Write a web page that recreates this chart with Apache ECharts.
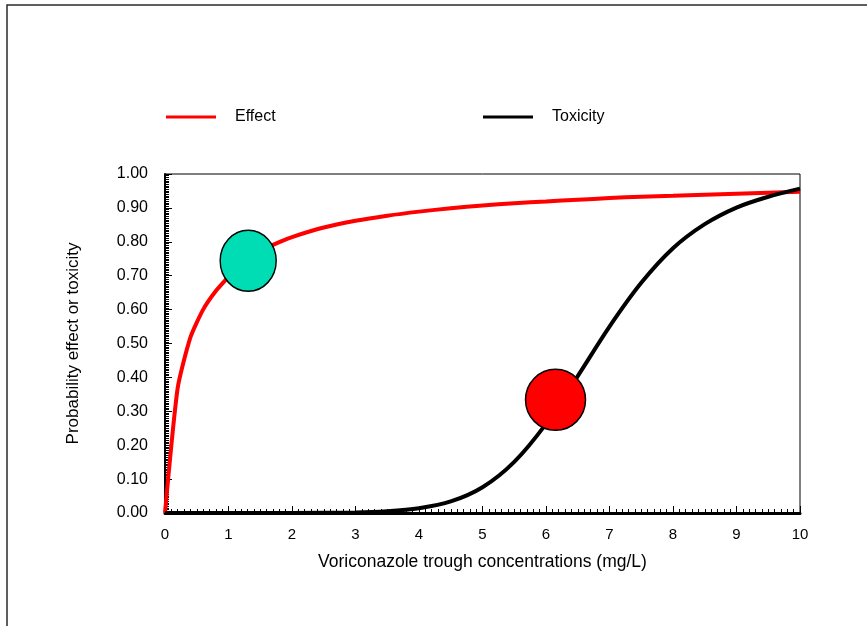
<!DOCTYPE html>
<html>
<head>
<meta charset="utf-8">
<script src="https://cdn.jsdelivr.net/npm/echarts@6/dist/echarts.min.js"></script>
<style>
  html, body { margin: 0; padding: 0; background: #fff; }
  #chart { width: 867px; height: 626px; }
</style>
</head>
<body>
<div id="chart"></div>
<script>
// Trough concentration (mg/L) and probability of effect
const effectConc = [0, 0.2, 0.4, 0.6, 0.8, 1.0, 1.2, 1.4, 1.6, 1.8, 2.0, 2.5, 3.0, 3.5, 4.0, 4.5, 5.0, 5.5, 6.0, 6.5, 7.0, 7.5, 8.0, 8.5, 9.0, 9.5, 10.0];
const effectProb = [0, 0.369, 0.518, 0.600, 0.655, 0.697, 0.737, 0.762, 0.782, 0.799, 0.814, 0.842, 0.862, 0.877, 0.889, 0.899, 0.907, 0.914, 0.919, 0.924, 0.929, 0.933, 0.936, 0.939, 0.942, 0.945, 0.948];

// Trough concentration (mg/L) and probability of toxicity
const toxConc = [0, 1, 2, 3, 3.5, 4.0, 4.5, 5.0, 5.5, 6.0, 6.5, 7.0, 7.5, 8.0, 8.5, 9.0, 9.5, 10.0];
const toxProb = [0, 0, 0.0001, 0.0014, 0.005, 0.014, 0.034, 0.076, 0.151, 0.263, 0.404, 0.550, 0.679, 0.781, 0.852, 0.901, 0.933, 0.957];

// Highlighted operating points: [concentration, probability]
const effectMarker = [1.31, 0.744];
const toxMarker = [6.15, 0.334];

const seriesNames = ['Effect', 'Toxicity'];
const xAxisTitle = 'Voriconazole trough concentrations (mg/L)';
const yAxisTitle = 'Probability effect or toxicity';

const font = 'Liberation Sans, Arial, sans-serif';

const chart = echarts.init(document.getElementById('chart'), null, { renderer: 'canvas' });

const legendBase = {
  icon: 'rect',
  itemWidth: 50,
  itemHeight: 3,
  top: 104,
  textStyle: { fontFamily: font, fontSize: 16, color: '#000', padding: [0, 0, 0, 14] }
};

chart.setOption({
  animation: false,
  backgroundColor: '#fff',
  graphic: [{
    type: 'rect',
    shape: { x: 7, y: 5, width: 900, height: 700 },
    style: { fill: 'none', stroke: '#2a2a2a', lineWidth: 1.5 },
    silent: true,
    z: 0
  }],
  legend: [
    Object.assign({ data: [seriesNames[0]], left: 161 }, legendBase),
    Object.assign({ data: [seriesNames[1]], left: 478 }, legendBase)
  ],
  grid: {
    left: 165, right: 67, top: 174, bottom: 113,
    show: true, borderColor: '#000', borderWidth: 1, backgroundColor: 'transparent'
  },
  xAxis: {
    type: 'value', min: 0, max: 10, interval: 1,
    name: xAxisTitle, nameLocation: 'middle', nameGap: 40,
    nameTextStyle: { fontFamily: font, fontSize: 17.5, color: '#000' },
    axisLine: { lineStyle: { color: '#000', width: 3 } },
    axisTick: { inside: true, length: 7, lineStyle: { color: '#000', width: 1 } },
    minorTick: { show: true, splitNumber: 10, length: 4, lineStyle: { color: '#000', width: 1 } },
    axisLabel: { fontFamily: font, fontSize: 15, color: '#000', margin: 14 },
    splitLine: { show: false }
  },
  yAxis: {
    type: 'value', min: 0, max: 1, interval: 0.1,
    name: yAxisTitle, nameLocation: 'middle', nameGap: 83, nameRotate: 90,
    nameTextStyle: { fontFamily: font, fontSize: 17, color: '#000' },
    axisLine: { show: true, lineStyle: { color: '#000', width: 2 } },
    axisTick: { show: true, inside: true, length: 7, lineStyle: { color: '#000', width: 1 } },
    minorTick: { show: true, splitNumber: 20, length: 4, lineStyle: { color: '#000', width: 1 } },
    axisLabel: { fontFamily: font, fontSize: 16, color: '#000', margin: 17, formatter: v => v.toFixed(2) },
    splitLine: { show: false }
  },
  series: [
    {
      name: seriesNames[0], type: 'line',
      data: effectConc.map((c, i) => [c, effectProb[i]]),
      smooth: 0.2, showSymbol: false, color: '#ff0000',
      lineStyle: { color: '#ff0000', width: 4 }, z: 3
    },
    {
      name: seriesNames[1], type: 'line',
      data: toxConc.map((c, i) => [c, toxProb[i]]),
      smooth: 0.3, showSymbol: false, color: '#000',
      lineStyle: { color: '#000', width: 4 }, z: 3
    },
    {
      type: 'scatter', data: [effectMarker], symbol: 'circle', symbolSize: [56, 61],
      itemStyle: { color: '#00ddb5', borderColor: '#000', borderWidth: 1.5, opacity: 1 },
      z: 5, silent: true
    },
    {
      type: 'scatter', data: [toxMarker], symbol: 'circle', symbolSize: [60, 61],
      itemStyle: { color: '#ff0000', borderColor: '#000', borderWidth: 1.5, opacity: 1 },
      z: 5, silent: true
    }
  ]
});
</script>
</body>
</html>
